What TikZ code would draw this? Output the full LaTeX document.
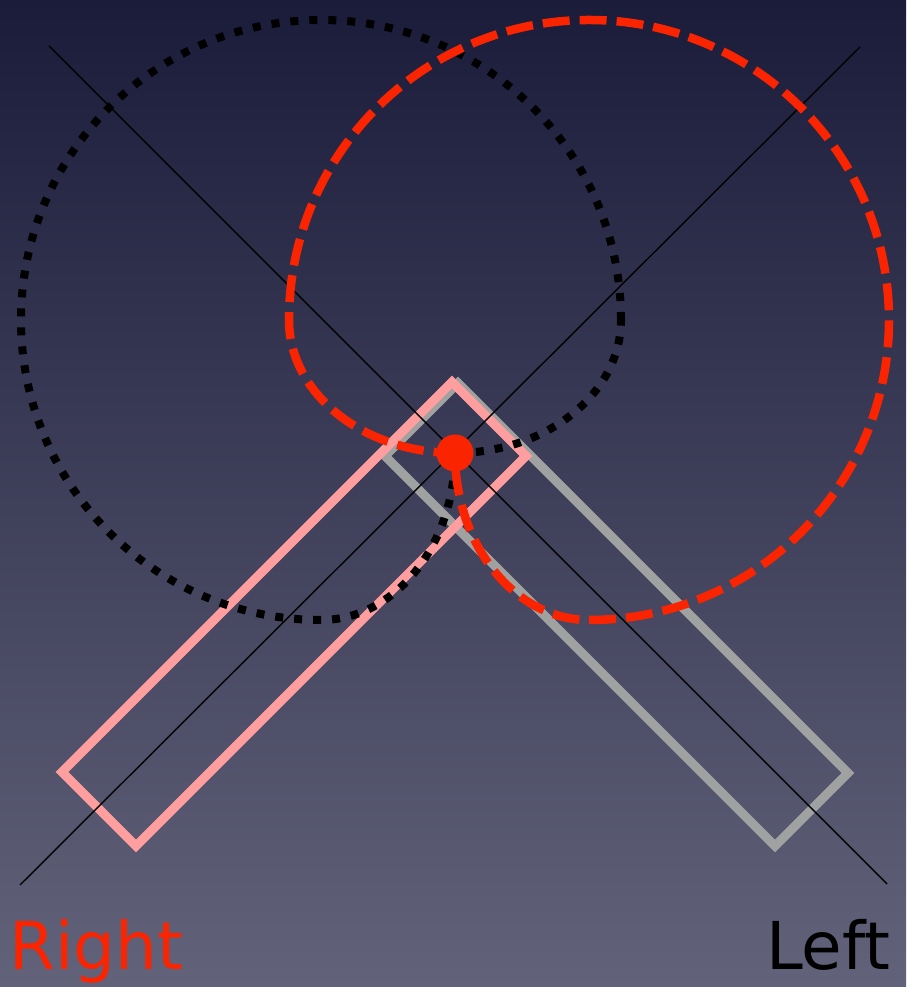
\documentclass[tikz,border=0pt]{standalone}
\usepackage{fontspec}
\setmainfont{DejaVu Sans}
\usepackage{xcolor}
\usepackage{tikz}
\definecolor{skytop}{RGB}{27,28,58}
\definecolor{skybottom}{RGB}{98,98,122}
\definecolor{markred}{RGB}{250,36,0}
\definecolor{barpink}{RGB}{255,158,158}
\definecolor{bargrey}{RGB}{160,161,161}
\tikzset{
  guideline/.style={
    draw=black,
    line width=1.4pt
  },
  greybar/.style={
    draw=bargrey,
    line width=9pt
  },
  pinkbar/.style={
    draw=barpink,
    line width=9pt
  },
  dottedloop/.style={
    draw=black,
    line width=8pt,
    dash pattern=on 8pt off 11pt
  },
  dashedloop/.style={
    draw=markred,
    line width=8.5pt,
    dash pattern=on 27pt off 10pt
  },
  pivotdot/.style={
    circle,
    fill=markred,
    inner sep=0pt,
    minimum size=37pt
  },
  sidelabel/.style={
    font=\fontsize{66}{78}\selectfont,
    inner sep=0pt,
    anchor=base west
  }
}

\begin{document}
\begin{tikzpicture}[x=1pt, y=1pt]
\shade[top color=skytop, bottom color=skybottom] (0,0) rectangle (906,987);
\useasboundingbox (0,0) rectangle (906,987);

\coordinate (nw) at (49,941);
\coordinate (se) at (887,103);
\coordinate (sw) at (20,102);
\coordinate (ne) at (860,940);

% the two bars
\draw[greybar] (458,604) -- (385,531) -- (775,141) -- (848,214) -- cycle;
\draw[pinkbar] (452,605) -- (526,531) -- (136,141) -- (62,215) -- cycle;

\draw[guideline] (nw) -- (se);
\draw[guideline] (sw) -- (ne);

% loops through the pivot
\draw[dottedloop] (621,667) arc[start angle=0, end angle=270, radius=300pt]
  arc[start angle=270, end angle=360, x radius=134pt, y radius=167pt]
  arc[start angle=270, end angle=360, x radius=166pt, y radius=133pt];
\draw[dashedloop] (589,367) arc[start angle=270, end angle=540, radius=300pt]
  arc[start angle=180, end angle=270, x radius=166pt, y radius=133pt]
  arc[start angle=180, end angle=270, x radius=134pt, y radius=167pt];

\node[pivotdot] (pivot) at (455,534) {};

\node[sidelabel, text=markred] (rightlabel) at (9,17) {Right};
\node[sidelabel, text=black] (leftlabel) at (766,17) {Left};
\end{tikzpicture}
\end{document}
